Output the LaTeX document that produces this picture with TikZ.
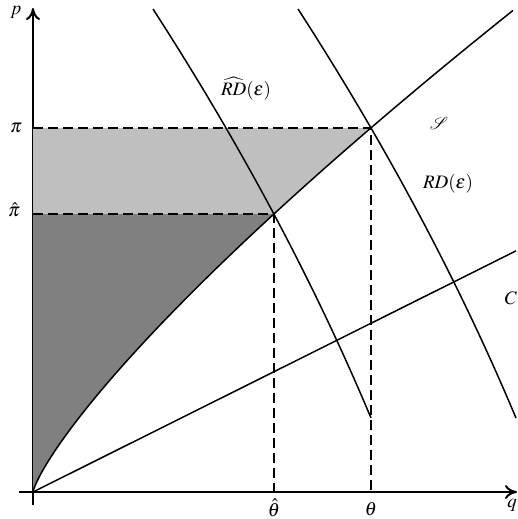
\documentclass[tikz,border=0pt]{standalone}
\usepackage{mathptmx}
\usepackage{mathrsfs}
\usetikzlibrary{arrows.meta}
\begin{document}
\begin{tikzpicture}[x=1pt,y=-1pt,
  curve/.style={line width=1.5pt},
  axis/.style={line width=2pt},
  guide/.style={line width=2pt, dash pattern=on 10pt off 5pt},
  lbl/.style={inner sep=0pt, font=\fontsize{19}{23}\selectfont}]
\useasboundingbox (0,0) rectangle (518,519);
\coordinate (O) at (33,492);
\coordinate (ptop) at (33,8);
\coordinate (pbot) at (33,505);
\coordinate (qleft) at (19,492);
\coordinate (qend) at (517,492);
\coordinate (Cend) at (516,250.9);
\coordinate (Stop) at (33,10);
\coordinate (A) at (371,128);
\coordinate (B) at (274,214);
\coordinate (RDtop) at (298,9);
\coordinate (RDbot) at (516,418);
\coordinate (RDhtop) at (153,9);
\coordinate (RDhbot) at (371,418);
% axes
\draw[line width=1.2pt] (pbot) -- (O);
\draw[axis,-{To[length=12pt,width=14pt]}] (O) -- (ptop);
\draw[line width=1.2pt] (qleft) -- (O);
\draw[axis,-{To[length=12pt,width=14pt]}] (O) -- (qend);
% shaded regions
\begin{scope}
\clip (O) -- plot[domain=0.001:1,samples=150,variable=\s] ({33+(137.2*\s)^1.2547},{492-482*\s}) -- (Stop) -- cycle;
\fill[black!25] (A -| O) rectangle (A |- B);
\fill[black!50] (B -| O) rectangle (B |- O);
\end{scope}
% guides
\draw[guide] (A -| O) -- (A) -- (A |- O);
\draw[guide] (B -| O) -- (B) -- (B |- O);
% curves
\draw[curve] (O) -- plot[domain=0.001:1,samples=150,variable=\s] ({33+(137.2*\s)^1.2547},{492-482*\s});
\draw[curve] (O) -- (Cend);
\draw[curve] (RDtop) .. controls (386.1,145.3) and (458.8,281.7) .. (RDbot);
\draw[curve] (RDhtop) .. controls (241.1,145.3) and (313.8,281.7) .. (RDhbot);
% labels
\node[lbl] (lp) at (16,12) {$p$};
\node[lbl] (lq) at (512,505) {$q$};
\node[lbl] (lpi) at (16,128) {$\pi$};
\node[lbl] (lpih) at (14,210) {$\hat{\pi}$};
\node[lbl] (lth) at (274,508) {$\hat{\theta}$};
\node[lbl] (lt) at (371,509) {$\theta$};
\node[lbl] (lrdh) at (246,89) {$\widehat{RD}(\varepsilon)$};
\node[lbl] (lS) at (439,123) {$\mathscr{S}$};
\node[lbl] (lrd) at (448,184) {$RD(\varepsilon)$};
\node[lbl] (lC) at (511,298) {$C$};
\end{tikzpicture}
\end{document}
